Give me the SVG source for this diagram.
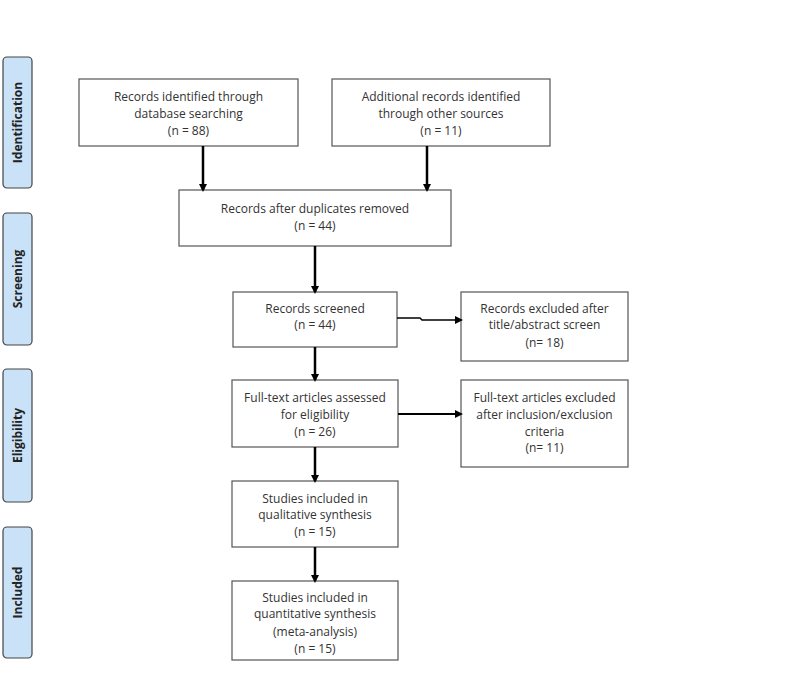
<svg xmlns="http://www.w3.org/2000/svg" width="800" height="681" viewBox="0 0 800 681">
<style>
.box{fill:#fff;stroke:#555;stroke-width:1.2}
.side{fill:#c9e2f8;stroke:#444;stroke-width:1.2}
.t{font-family:"Open Sans","Liberation Sans",sans-serif;font-size:12px;fill:#333;text-anchor:middle}
.s{font-family:"Open Sans","Liberation Sans",sans-serif;font-size:12px;font-weight:bold;fill:#222;text-anchor:middle}
.c{stroke:#000;stroke-width:2.5;fill:none;marker-end:url(#ah)}
</style>
<defs>
<marker id="ah" markerWidth="8" markerHeight="8" refX="6" refY="4" orient="auto" markerUnits="userSpaceOnUse" viewBox="0 0 8 8">
<path d="M0,0 L8,4 L0,8 z" fill="#000"/>
</marker>
</defs>
<rect width="800" height="681" fill="#fff"/>
<g id="side-identification"><rect class="side" x="3" y="57" width="29" height="131" rx="4"/><text class="s" transform="translate(22,122.5) rotate(-90)">Identification</text></g>
<g id="side-screening"><rect class="side" x="3" y="213" width="29" height="132" rx="4"/><text class="s" transform="translate(22,279) rotate(-90)">Screening</text></g>
<g id="side-eligibility"><rect class="side" x="3" y="369" width="29" height="133" rx="4"/><text class="s" transform="translate(22,435.5) rotate(-90)">Eligibility</text></g>
<g id="side-included"><rect class="side" x="3" y="527" width="29" height="131" rx="4"/><text class="s" transform="translate(22,592.5) rotate(-90)">Included</text></g>

<g id="n1"><rect class="box" x="79" y="79" width="219" height="67"/>
<text class="t" x="188.5" y="101">Records identified through</text>
<text class="t" x="188.5" y="118">database searching</text>
<text class="t" x="188.5" y="135">(n = 88)</text></g>
<g id="n2"><rect class="box" x="332" y="79" width="218" height="67"/>
<text class="t" x="441" y="101">Additional records identified</text>
<text class="t" x="441" y="118">through other sources</text>
<text class="t" x="441" y="135">(n = 11)</text></g>
<g id="n3"><rect class="box" x="179" y="190" width="272" height="56"/>
<text class="t" x="315" y="213">Records after duplicates removed</text>
<text class="t" x="315" y="230">(n = 44)</text></g>
<g id="n4"><rect class="box" x="233" y="292" width="164" height="55"/>
<text class="t" x="315" y="313">Records screened</text>
<text class="t" x="315" y="329">(n = 44)</text></g>
<g id="n5"><rect class="box" x="461" y="292" width="167" height="69"/>
<text class="t" x="544.5" y="313">Records excluded after</text>
<text class="t" x="544.5" y="329">title/abstract screen</text>
<text class="t" x="544.5" y="347">(n= 18)</text></g>
<g id="n6"><rect class="box" x="232" y="380" width="166" height="67"/>
<text class="t" x="315" y="402">Full-text articles assessed</text>
<text class="t" x="315" y="419">for eligibility</text>
<text class="t" x="315" y="436">(n = 26)</text></g>
<g id="n7"><rect class="box" x="461" y="380" width="167" height="87"/>
<text class="t" x="544.5" y="402">Full-text articles excluded</text>
<text class="t" x="544.5" y="419">after inclusion/exclusion</text>
<text class="t" x="544.5" y="436">criteria</text>
<text class="t" x="544.5" y="452">(n= 11)</text></g>
<g id="n8"><rect class="box" x="232" y="481" width="166" height="66"/>
<text class="t" x="315" y="503">Studies included in</text>
<text class="t" x="315" y="519">qualitative synthesis</text>
<text class="t" x="315" y="536">(n = 15)</text></g>
<g id="n9"><rect class="box" x="232" y="581" width="166" height="79"/>
<text class="t" x="315" y="602">Studies included in</text>
<text class="t" x="315" y="618">quantitative synthesis</text>
<text class="t" x="315" y="636">(meta-analysis)</text>
<text class="t" x="315" y="653">(n = 15)</text></g>

<g id="connectors">
<line class="c" x1="203" y1="146" x2="203" y2="190"/>
<line class="c" x1="427" y1="146" x2="427" y2="190"/>
<line class="c" x1="315" y1="246" x2="315" y2="292"/>
<polyline class="c" style="stroke-width:1.5" points="397,318 420,318 422,320 461,320"/>
<line class="c" x1="315" y1="347" x2="315" y2="380"/>
<line class="c" x1="398" y1="414" x2="461" y2="414" style="stroke-width:1.8"/>
<line class="c" x1="315" y1="447" x2="315" y2="481"/>
<line class="c" x1="315" y1="547" x2="315" y2="581"/>
</g>
</svg>
